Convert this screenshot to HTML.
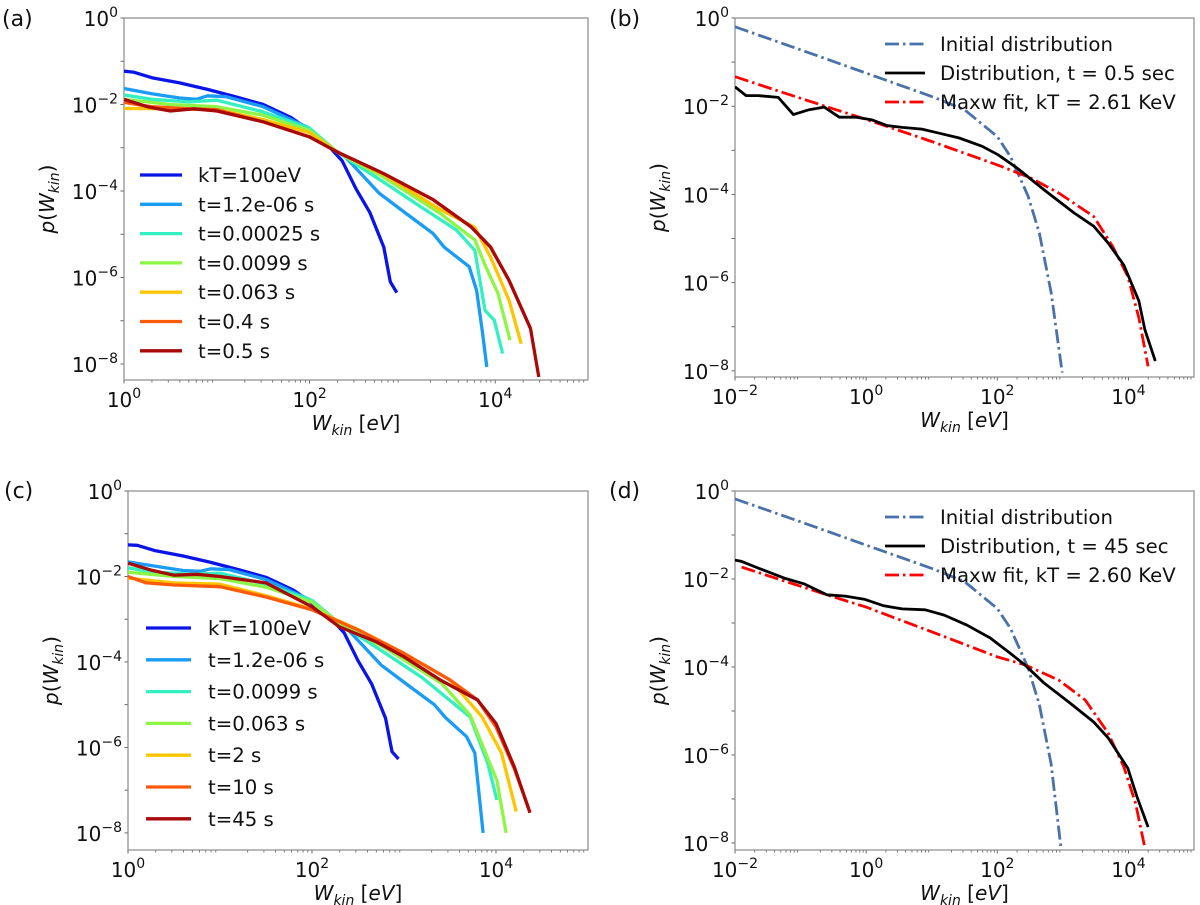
<!DOCTYPE html>
<html><head><meta charset="utf-8">
<style>
html,body{margin:0;padding:0;background:#fff;}
svg{display:block;font-family:"DejaVu Sans","Liberation Sans",sans-serif;}
</style></head>
<body>
<svg id="fig" width="1200" height="905" viewBox="0 0 1200 905" xmlns="http://www.w3.org/2000/svg"></svg>
<script>
// ---- Data (log10 of W_kin [eV], log10 of p(W_kin)) ----
// Panel (a)
const aLabels = ["kT=100eV","t=1.2e-06 s","t=0.00025 s","t=0.0099 s","t=0.063 s","t=0.4 s","t=0.5 s"];
const aColors = ["#0a14e6","#1a9cf5","#33f0c0","#8ef545","#ffc400","#ff5a0a","#a80a0a"];
const aX0 = [0,0.1,0.3,0.6,0.9,1.2,1.5,1.8,2.0,2.2,2.35,2.5,2.65,2.8,2.87,2.94];
const aY0 = [-1.23,-1.25,-1.38,-1.5,-1.65,-1.82,-2.0,-2.3,-2.6,-2.95,-3.3,-3.95,-4.5,-5.3,-6.1,-6.35];
const aX1 = [0,0.3,0.6,0.78,0.9,1.1,1.5,2.0,2.1,2.38,2.75,3.04,3.33,3.45,3.72,3.8,3.86,3.91];
const aY1 = [-1.63,-1.75,-1.85,-1.88,-1.8,-1.82,-2.05,-2.55,-2.82,-3.2,-4.05,-4.52,-4.98,-5.3,-5.75,-6.3,-7.22,-8.07];
const aX2 = [0,0.3,0.7,1.0,1.5,2.0,2.3,2.8,3.2,3.58,3.78,3.89,3.99,4.08];
const aY2 = [-1.78,-1.88,-1.94,-1.9,-2.17,-2.55,-3.1,-3.8,-4.37,-4.9,-5.37,-6.76,-6.99,-7.76];
const aX3 = [0,0.5,1.0,1.5,2.0,2.3,2.8,3.41,3.78,3.9,4.03,4.16];
const aY3 = [-1.88,-2.0,-2.05,-2.25,-2.6,-3.1,-3.68,-4.52,-5.13,-5.76,-6.37,-7.45];
const aX4 = [0,0.5,1.0,1.5,2.0,2.3,2.8,3.4,3.78,3.95,4.15,4.28];
const aY4 = [-2.09,-2.1,-2.12,-2.35,-2.65,-3.1,-3.62,-4.42,-4.84,-5.53,-6.53,-7.53];
const aX5 = [0,0.3,0.7,1.0,1.5,2.0,2.3,2.8,3.33,3.74,3.95,4.15,4.38];
const aY5 = [-1.95,-2.05,-2.1,-2.12,-2.4,-2.75,-3.1,-3.6,-4.2,-4.83,-5.3,-6.07,-7.18];
const aX6 = [0,0.25,0.5,0.75,1.0,1.5,2.0,2.3,2.8,3.33,3.74,3.95,4.15,4.38,4.47];
const aY6 = [-1.88,-2.05,-2.15,-2.1,-2.15,-2.4,-2.75,-3.1,-3.6,-4.2,-4.83,-5.3,-6.07,-7.18,-8.3];
// Panel (c)
const cLabels = ["kT=100eV","t=1.2e-06 s","t=0.0099 s","t=0.063 s","t=2 s","t=10 s","t=45 s"];
const cX0 = [0,0.1,0.3,0.6,0.9,1.2,1.5,1.8,2.0,2.2,2.35,2.5,2.65,2.8,2.87,2.94];
const cY0 = [-1.26,-1.27,-1.4,-1.52,-1.67,-1.84,-2.02,-2.32,-2.62,-2.97,-3.32,-3.97,-4.52,-5.32,-6.1,-6.27];
const cX1 = [0,0.3,0.6,0.78,0.9,1.1,1.5,2.0,2.1,2.38,2.75,3.04,3.33,3.45,3.68,3.77,3.86];
const cY1 = [-1.66,-1.76,-1.86,-1.88,-1.82,-1.84,-2.07,-2.57,-2.84,-3.22,-4.07,-4.54,-5.0,-5.3,-5.75,-6.13,-8.0];
const cX2 = [0,0.3,0.7,1.0,1.5,2.0,2.3,2.8,3.2,3.72,3.91,4.01];
const cY2 = [-1.8,-1.9,-1.95,-1.92,-2.18,-2.56,-3.1,-3.8,-4.37,-5.29,-6.37,-7.23];
const cX3 = [0,0.5,1.0,1.5,2.0,2.3,2.8,3.41,3.72,3.9,4.01,4.11];
const cY3 = [-1.9,-2.0,-2.05,-2.25,-2.6,-3.1,-3.68,-4.5,-5.25,-6.2,-6.77,-8.0];
const cX4 = [0,0.5,1.0,1.5,2.0,2.5,3.0,3.5,3.85,4.06,4.22];
const cY4 = [-2.04,-2.15,-2.18,-2.45,-2.76,-3.24,-3.8,-4.42,-5.29,-6.13,-7.5];
const cX5 = [0,0.2,0.5,1.0,1.5,2.0,2.5,3.0,3.5,3.8,4.0,4.2,4.35];
const cY5 = [-2.0,-2.15,-2.2,-2.24,-2.48,-2.78,-3.25,-3.8,-4.42,-4.89,-5.52,-6.5,-7.4];
const cX6 = [0,0.25,0.5,0.75,1.0,1.5,2.0,2.3,2.7,3.0,3.4,3.8,4.0,4.2,4.37];
const cY6 = [-1.69,-1.85,-1.97,-1.95,-2.0,-2.15,-2.71,-3.18,-3.53,-3.88,-4.43,-4.89,-5.44,-6.46,-7.53];
// Panel (b)
const bLabels = ["Initial distribution","Distribution, t = 0.5 sec","Maxw fit, kT = 2.61 KeV"];
const bInitX = [-2,-1,0,1,1.5,2,2.2,2.47,2.64,2.82,2.99];
const bInitY = [-0.2,-0.72,-1.25,-1.78,-2.08,-2.69,-3.14,-4.04,-4.87,-6.22,-8.04];
const bDistX = [-2,-1.83,-1.65,-1.34,-1.11,-0.87,-0.64,-0.41,-0.15,0.09,0.32,0.55,0.85,1.08,1.42,1.77,2.01,2.3,2.71,3.17,3.47,3.69,3.93,4.16,4.25,4.41];
const bDistY = [-1.56,-1.76,-1.76,-1.8,-2.19,-2.08,-2.02,-2.25,-2.25,-2.31,-2.44,-2.48,-2.52,-2.6,-2.72,-2.91,-3.1,-3.4,-3.89,-4.42,-4.72,-5.1,-5.6,-6.42,-7.06,-7.78];
const bFitX = [-2,-1,0,1,2,2.5,2.94,3.47,3.76,3.99,4.16,4.3];
const bFitY = [-1.33,-1.82,-2.3,-2.8,-3.33,-3.62,-3.97,-4.5,-5.18,-5.86,-6.8,-7.9];
// Panel (d)
const dLabels = ["Initial distribution","Distribution, t = 45 sec","Maxw fit, kT = 2.60 KeV"];
const dInitX = [-2,-1,0,1,1.5,2,2.2,2.47,2.64,2.82,2.97];
const dInitY = [-0.18,-0.7,-1.23,-1.76,-2.06,-2.67,-3.12,-4.02,-4.85,-6.2,-8.1];
const dDistX = [-2,-1.9,-1.65,-1.25,-0.95,-0.6,-0.32,-0.03,0.27,0.55,0.9,1.19,1.54,1.89,2.19,2.42,2.71,3.11,3.47,3.69,3.99,4.13,4.3];
const dDistY = [-1.57,-1.6,-1.75,-1.98,-2.11,-2.36,-2.39,-2.46,-2.61,-2.68,-2.7,-2.82,-3.05,-3.34,-3.68,-3.95,-4.36,-4.82,-5.25,-5.61,-6.3,-6.95,-7.64];
const dFitX = [-1.9,-0.6,0,1,2,2.42,2.94,3.34,3.69,3.93,4.11,4.25];
const dFitY = [-1.73,-2.36,-2.64,-3.2,-3.77,-3.95,-4.3,-4.75,-5.5,-6.27,-7.1,-8.1];

const NS = "http://www.w3.org/2000/svg";
const svg = document.getElementById('fig');
function mk(tag, attrs, parent){ const e=document.createElementNS(NS,tag); for(const k in attrs) e.setAttribute(k,attrs[k]); (parent||svg).appendChild(e); return e; }

function panel(id, box, xr, yr, xmaj, ymaj){
  const g = mk('g',{});
  
  
  const sx = v => box.l + (v-xr[0])/(xr[1]-xr[0])*(box.r-box.l);
  const sy = v => box.t + (yr[1]-v)/(yr[1]-yr[0])*(box.b-box.t);
  for(let d=Math.floor(xr[0]); d<xr[1]; d++){
    for(let m=2;m<10;m++){ const lv=d+Math.log10(m); if(lv<=xr[0]||lv>=xr[1]) continue;
      const t=mk('line',{x1:sx(lv),x2:sx(lv),y1:box.b,y2:box.b+2.5,stroke:'#555','stroke-width':0.8},g);
        }
  }
  for(let d=Math.ceil(yr[0]); d<=yr[1]; d++){
    const t=mk('line',{x1:box.l-3.5,x2:box.l,y1:sy(d),y2:sy(d),stroke:'#555','stroke-width':0.9},g);
     
  }
  xmaj.forEach(v=>{
    const t=mk('line',{x1:sx(v),x2:sx(v),y1:box.b,y2:box.b+3.5,stroke:'#555','stroke-width':0.9},g);
     
    const tx=mk('text',{x:sx(v),y:box.b+27,'text-anchor':'middle','font-size':20,fill:'#111'},g);
     
    tx.innerHTML='10<tspan dy="-9" font-size="14">'+(v<0?'\u2212'+(-v):v)+'</tspan>';
  });
  ymaj.forEach(v=>{
    const tx=mk('text',{x:box.l-6,y:sy(v)+8,'text-anchor':'end','font-size':20,fill:'#111'},g);
     
    tx.innerHTML='10<tspan dy="-9" font-size="14">'+(v<0?'\u2212'+(-v):v)+'</tspan>';
  });
  const r=mk('rect',{x:box.l,y:box.t,width:box.r-box.l,height:box.b-box.t,fill:'none',stroke:'#8a8a8a','stroke-width':1.2},g);
   
  const clip=mk('clipPath',{id:'clip'+id},g);
  mk('rect',{x:box.l,y:box.t,width:box.r-box.l,height:box.b-box.t},clip);
  const lines=mk('g',{'clip-path':'url(#clip'+id+')'},g);
   
  const xl=mk('text',{x:(box.l+box.r)/2,y:box.b+50,'text-anchor':'middle','font-size':20,fill:'#111'},g);
   
  xl.innerHTML='<tspan font-style="italic">W</tspan><tspan font-style="italic" font-size="14" dy="5">kin</tspan><tspan dy="-5"> [</tspan><tspan font-style="italic">eV</tspan>]';
  const yx=box.l-70, yc=(box.t+box.b)/2;
  const yl=mk('text',{x:yx,y:yc,'text-anchor':'middle','font-size':20,fill:'#111',transform:'rotate(-90 '+yx+' '+yc+')'},g);
   
  yl.innerHTML='<tspan font-style="italic">p</tspan>(<tspan font-style="italic">W</tspan><tspan font-style="italic" font-size="14" dy="5">kin</tspan><tspan dy="-5">)</tspan>';
  return {g, lines, sx, sy};
}
function series(P, xs, ys, color, w, dash, name){
  let d=''; xs.forEach((x,i)=>{ d+=(i?'L':'M')+P.sx(x).toFixed(1)+','+P.sy(ys[i]).toFixed(1); });
  const p=mk('path',{d:d,fill:'none',stroke:color,'stroke-width':w,'stroke-linejoin':'round'},P.lines);
  if(dash) p.setAttribute('stroke-dasharray',dash);
  
  
}
function legend(P, labels, colors, widths, dashes, x1, x2, tx, y0, step){
  labels.forEach((lab,i)=>{
    const y=y0+i*step;
    const l=mk('line',{x1:x1,x2:x2,y1:y,y2:y,stroke:colors[i],'stroke-width':widths[i]},P.g);
    if(dashes[i]) l.setAttribute('stroke-dasharray',dashes[i]);
    
    
    const t=mk('text',{x:tx,y:y+7,'font-size':19.7,fill:'#111'},P.g);
    t.textContent=lab;
    
    
  });
}
function plabel(txt,x,y){ const t=mk('text',{x:x,y:y,'font-size':22,fill:'#111'}); t.textContent=txt;
    }

const A = panel('a',{l:124,r:588,t:18,b:380},[0,5],[-8.37,0],[0,2,4],[0,-2,-4,-6,-8]);
[[aX0,aY0],[aX1,aY1],[aX2,aY2],[aX3,aY3],[aX4,aY4],[aX5,aY5],[aX6,aY6]].forEach((s,i)=>series(A,s[0],s[1],aColors[i],3.3,null,'curve-a-'+i));
legend(A,aLabels,aColors,[3.3,3.3,3.3,3.3,3.3,3.3,3.3],[],140,182,198,175,29.3);
plabel('(a)',2,26);
const C = panel('c',{l:128,r:588,t:491,b:850},[0,5],[-8.4,0],[0,2,4],[0,-2,-4,-6,-8]);
[[cX0,cY0],[cX1,cY1],[cX2,cY2],[cX3,cY3],[cX4,cY4],[cX5,cY5],[cX6,cY6]].forEach((s,i)=>series(C,s[0],s[1],aColors[i],3.3,null,'curve-c-'+i));
legend(C,cLabels,aColors,[3.3,3.3,3.3,3.3,3.3,3.3,3.3],[],146,191,208,628,31.8);
plabel('(c)',4,498);
const dd='14,4,2.5,4';
const B = panel('b',{l:735,r:1194,t:18,b:377},[-2,5],[-8.14,0],[-2,0,2,4],[0,-2,-4,-6,-8]);
series(B,bInitX,bInitY,'#4a72a8',2.8,dd,'initial-distribution-b');
series(B,bFitX,bFitY,'#ff0000',2.8,dd,'maxwell-fit-b');
series(B,bDistX,bDistY,'#000000',2.8,null,'distribution-b');
legend(B,bLabels,['#4a72a8','#000','#ff0000'],[2.8,2.8,2.8],[dd,null,dd],885,925,940,44,29);
plabel('(b)',609,26);
const D = panel('d',{l:735,r:1194,t:491,b:850},[-2,5],[-8.16,0],[-2,0,2,4],[0,-2,-4,-6,-8]);
series(D,dInitX,dInitY,'#4a72a8',2.8,dd,'initial-distribution-d');
series(D,dFitX,dFitY,'#ff0000',2.8,dd,'maxwell-fit-d');
series(D,dDistX,dDistY,'#000000',2.8,null,'distribution-d');
legend(D,dLabels,['#4a72a8','#000','#ff0000'],[2.8,2.8,2.8],[dd,null,dd],885,925,940,517,29);
plabel('(d)',609,498);
</script>
</body></html>
